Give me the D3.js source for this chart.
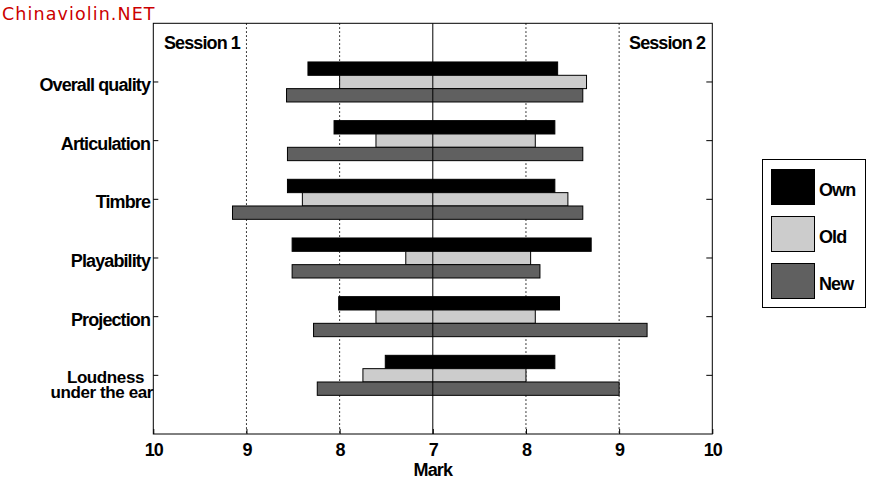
<!DOCTYPE html>
<html>
<head>
<meta charset="utf-8">
<script src="https://cdn.jsdelivr.net/npm/d3@7"></script>
<style>
  body { margin: 0; background: #fff; }
  svg text { font-family: "Liberation Sans", Arial, sans-serif; font-weight: bold; font-size: 18px; letter-spacing: -0.9px; }
</style>
</head>
<body>
<div id="chart"></div>
<script>
const WIDTH = 891
const HEIGHT = 480

// categories, top to bottom
const categories = ['Overall quality', 'Articulation', 'Timbre', 'Playability', 'Projection', 'Loudness\nunder the ear']
const series = ['Own', 'Old', 'New']
const colours = ['#000000', '#cccccc', '#606060']

// marks for session 1 (drawn to the left) and session 2 (drawn to the right)
const session1 = {
    Own: [8.34, 8.06, 8.56, 8.51, 8.01, 7.51],
    Old: [8.00, 7.61, 8.40, 7.29, 7.61, 7.75],
    New: [8.57, 8.56, 9.15, 8.51, 8.28, 8.24]
}
const session2 = {
    Own: [8.34, 8.31, 8.31, 8.70, 8.36, 8.31],
    Old: [8.65, 8.10, 8.45, 8.05, 8.10, 8.00],
    New: [8.61, 8.61, 8.61, 8.15, 9.30, 9.00]
}
const xTicks = [-3, -2, -1, 0, 1, 2, 3]
const gridTicks = [-2, -1, 1, 2]

const margin = { left: 153.3, right: WIDTH - 712.3, top: 23.3, bottom: HEIGHT - 434 }

const svg = d3.select('#chart')
    .append('svg')
    .attr('width', WIDTH)
    .attr('height', HEIGHT)

// watermark
svg.append('text')
    .attr('x', 2)
    .attr('y', 20)
    .style('font-family', '"DejaVu Sans", sans-serif')
    .style('font-weight', 'normal')
    .style('font-size', '17.5px')
    .style('letter-spacing', '1.1px')
    .attr('fill', '#cc0000')
    .text('Chinaviolin.NET')

const xScale = d3.scaleLinear()
    .domain([-3, 3])
    .range([margin.left, WIDTH - margin.right])

const yScale = d3.scaleBand()
    .domain(categories)
    .range([margin.top, HEIGHT - margin.bottom])
    .paddingInner(0.318)
    .paddingOuter(0.659)

const ySub = d3.scaleBand()
    .domain(series)
    .range([0, yScale.bandwidth()])

const plotTop = margin.top
const plotBottom = HEIGHT - margin.bottom

// dotted grid
svg.append('g')
    .selectAll('line')
    .data(gridTicks)
    .join('line')
    .attr('x1', d => xScale(d))
    .attr('x2', d => xScale(d))
    .attr('y1', plotTop)
    .attr('y2', plotBottom)
    .attr('stroke', '#000')
    .attr('stroke-width', 1)
    .attr('stroke-dasharray', '1.5,2.5')

// flatten data into bars
const bars = []
categories.forEach((c, i) => {
    series.forEach((s, j) => {
        bars.push({ category: c, key: s, left: session1[s][i], right: session2[s][i], colour: colours[j] })
    })
})

svg.append('g')
    .selectAll('rect')
    .data(bars)
    .join('rect')
    .attr('x', d => xScale(-(d.left - 7)))
    .attr('y', d => yScale(d.category) + ySub(d.key))
    .attr('width', d => xScale(d.right - 7) - xScale(-(d.left - 7)))
    .attr('height', ySub.bandwidth())
    .attr('fill', d => d.colour)
    .attr('stroke', '#000')
    .attr('stroke-width', 1)

// centre line at 7
svg.append('line')
    .attr('x1', xScale(0))
    .attr('x2', xScale(0))
    .attr('y1', plotTop)
    .attr('y2', plotBottom)
    .attr('stroke', '#000')
    .attr('stroke-width', 1)

// frame
svg.append('rect')
    .attr('x', xScale(-3))
    .attr('y', plotTop)
    .attr('width', xScale(3) - xScale(-3))
    .attr('height', plotBottom - plotTop)
    .attr('fill', 'none')
    .attr('stroke', '#000')
    .attr('stroke-width', 1)

// bottom axis
const xAxis = svg.append('g')
    .attr('transform', `translate(0, ${plotBottom})`)
    .call(d3.axisBottom(xScale)
        .tickValues(xTicks)
        .tickFormat(d => 7 + Math.abs(d))
        .tickSizeInner(-5)
        .tickSizeOuter(0)
        .tickPadding(9))
xAxis.select('.domain').remove()
xAxis.selectAll('text')
    .attr('font-size', null)
    .attr('font-family', null)
    .attr('fill', '#000')

svg.append('text')
    .attr('x', xScale(0))
    .attr('y', 475.5)
    .attr('text-anchor', 'middle')
    .text('Mark')

// left and right ticks
const yTicks = svg.append('g')
categories.forEach(c => {
    const yc = yScale(c) + yScale.bandwidth() / 2
    yTicks.append('line')
        .attr('x1', xScale(-3)).attr('x2', xScale(-3) + 5)
        .attr('y1', yc).attr('y2', yc)
        .attr('stroke', '#000')
    yTicks.append('line')
        .attr('x1', xScale(3) - 6).attr('x2', xScale(3))
        .attr('y1', yc).attr('y2', yc)
        .attr('stroke', '#000')
})

// category labels
svg.append('g')
    .selectAll('text')
    .data(categories)
    .join('text')
    .attr('text-anchor', 'end')
    .each(function (c) {
        const lines = c.split('\n')
        const yc = yScale(c) + yScale.bandwidth() / 2
        const t = d3.select(this)
        if (lines.length === 1) {
            t.append('tspan').attr('x', 150).attr('y', yc + 9).text(lines[0])
        } else {
            t.style('font-size', '17px').style('letter-spacing', '-0.4px')
            t.append('tspan').attr('x', 144).attr('y', yc + 8).text(lines[0])
            t.append('tspan').attr('x', 153).attr('y', yc + 22.5).text(lines[1])
        }
    })

// session labels
svg.append('text')
    .attr('x', 164)
    .attr('y', 49)
    .text('Session 1')
svg.append('text')
    .attr('x', 705)
    .attr('y', 49)
    .attr('text-anchor', 'end')
    .text('Session 2')

// legend
const legend = svg.append('g')
legend.append('rect')
    .attr('x', 762.5)
    .attr('y', 159.5)
    .attr('width', 103)
    .attr('height', 148)
    .attr('fill', '#fff')
    .attr('stroke', '#000')

const legendItems = legend.selectAll('.item')
    .data(series)
    .join('g')
    .attr('class', 'item')
    .attr('transform', (d, i) => `translate(771.5, ${169.5 + i * 47})`)
legendItems.append('rect')
    .attr('width', 43)
    .attr('height', 35)
    .attr('fill', (d, i) => colours[i])
    .attr('stroke', '#000')
legendItems.append('text')
    .attr('x', 47.5)
    .attr('y', 26)
    .text(d => d)
</script>
</body>
</html>
